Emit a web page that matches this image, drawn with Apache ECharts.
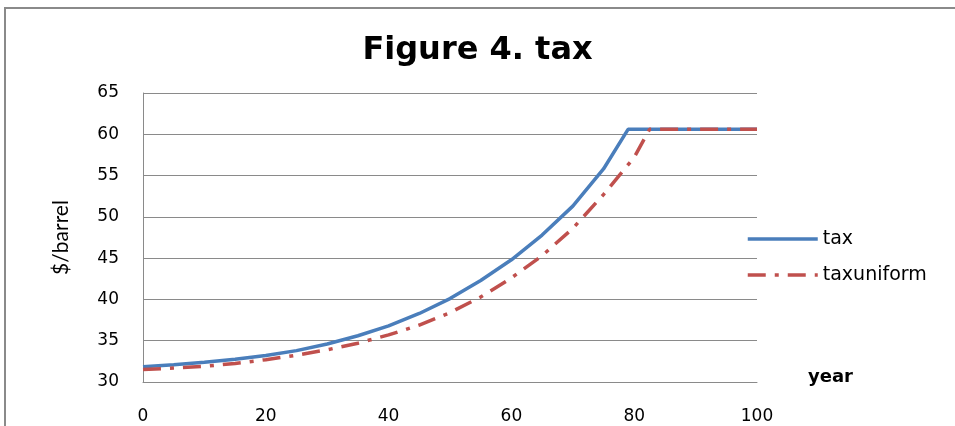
<!DOCTYPE html>
<html>
<head>
<meta charset="utf-8">
<script src="https://cdn.jsdelivr.net/npm/echarts@6/dist/echarts.min.js"></script>
<style>
  html, body { margin: 0; padding: 0; background: #fff; }
  #chart { width: 955px; height: 426px; }
</style>
</head>
<body>
<div id="chart"></div>
<script>
// data
const taxYears = [0, 5, 10, 15, 20, 25, 30, 35, 40, 45, 50, 55, 60, 65, 70, 75, 79, 85, 90, 95, 100];
const taxValues = [31.85, 32.1, 32.4, 32.75, 33.2, 33.8, 34.6, 35.6, 36.8, 38.3, 40.1, 42.3, 44.8, 47.8, 51.3, 55.8, 60.6, 60.6, 60.6, 60.6, 60.6];

const uniYears = [0, 5, 10, 15, 20, 25, 30, 35, 40, 45, 50, 55, 60, 65, 70, 75, 80, 82.5, 90, 100];
const uniValues = [31.5, 31.7, 31.9, 32.25, 32.7, 33.25, 33.9, 34.7, 35.7, 36.9, 38.4, 40.3, 42.6, 45.3, 48.6, 52.7, 57.2, 60.6, 60.6, 60.6];

const seriesNames = ['tax', 'taxuniform'];

var chart = echarts.init(document.getElementById('chart'));

var option = {
  animation: false,
  title: {
    text: 'Figure 4. tax',
    left: 'center',
    top: 30,
    textStyle: { fontFamily: 'DejaVu Sans', fontWeight: 'bold', fontSize: 32, color: '#000' }
  },
  graphic: [{
    type: 'rect',
    shape: { x: 5, y: 8, width: 2000, height: 1000 },
    style: { fill: 'none', stroke: '#8a8a8a', lineWidth: 2 },
    silent: true
  }, {
    type: 'text',
    left: 808,
    top: 368,
    style: { text: 'year', font: 'bold 18px "DejaVu Sans"', fill: '#000' }
  }],
  legend: {
    orient: 'vertical',
    left: 741,
    top: 224,
    itemWidth: 70,
    itemHeight: 14,
    itemGap: 16,
    itemStyle: { opacity: 0 },
    lineStyle: { width: 3.5 },
    textStyle: { fontFamily: 'DejaVu Sans', fontSize: 19, lineHeight: 20, color: '#000' },
    data: seriesNames
  },
  grid: { left: 143, right: 198, top: 93, bottom: 44 },
  xAxis: {
    type: 'value',
    min: 0,
    max: 100,
    interval: 20,
    axisLine: { lineStyle: { color: '#8a8a8a', width: 1 } },
    axisTick: { show: false },
    splitLine: { show: false },
    axisLabel: { margin: 26, fontFamily: 'DejaVu Sans', fontSize: 17, color: '#000' }
  },
  yAxis: {
    type: 'value',
    min: 30,
    max: 65,
    interval: 5,
    name: '$/barrel',
    nameLocation: 'middle',
    nameGap: 71,
    nameTextStyle: { fontFamily: 'Lato', fontSize: 21, color: '#000' },
    axisLine: { show: true, lineStyle: { color: '#8a8a8a', width: 1 } },
    axisTick: { show: false },
    splitLine: { lineStyle: { color: '#8a8a8a', width: 1 } },
    axisLabel: { margin: 24, fontFamily: 'DejaVu Sans', fontSize: 17, color: '#000' }
  },
  series: [{
    name: seriesNames[0],
    type: 'line',
    symbol: 'none',
    lineStyle: { color: '#4a7ebb', width: 3.5 },
    itemStyle: { color: '#4a7ebb' },
    data: taxYears.map((x, i) => [x, taxValues[i]])
  }, {
    name: seriesNames[1],
    type: 'line',
    symbol: 'none',
    lineStyle: { color: '#c0504d', width: 3.5, type: [18, 9, 4, 9] },
    itemStyle: { color: '#c0504d' },
    data: uniYears.map((x, i) => [x, uniValues[i]])
  }]
};

chart.setOption(option);
</script>
</body>
</html>
